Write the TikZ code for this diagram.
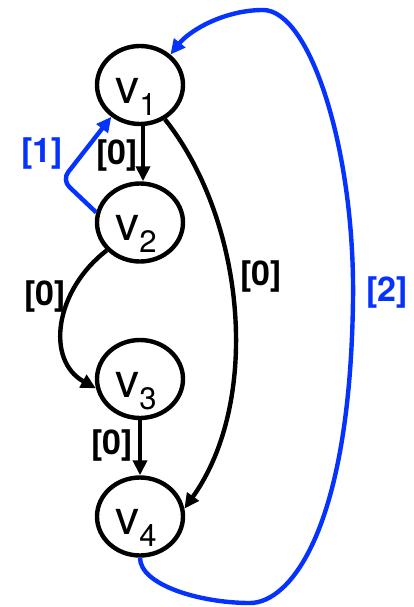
\documentclass[tikz,border=0pt]{standalone}
\usepackage{fontspec}
\setmainfont{TeX Gyre Heros}
\usetikzlibrary{shapes.geometric,arrows.meta}
\definecolor{edgeblue}{RGB}{5,50,252}
\newcommand{\vname}[1]{{\fontsize{48}{48}\selectfont v}\raisebox{-12pt}{\fontsize{31}{31}\selectfont #1}\hspace*{8pt}}
\tikzset{
  vertex/.style={draw, ellipse, line width=4.4pt, inner sep=0pt,
    minimum width=86pt, minimum height=78pt,
    text height=36pt, text depth=0pt},
  edge/.style={line width=4.4pt, -{Triangle[length=15pt,width=14pt]}},
  blueedge/.style={edge, edgeblue},
  weight/.style={font=\fontsize{34}{34}\selectfont\bfseries, inner sep=0pt},
  blueweight/.style={weight, text=edgeblue}
}
\begin{document}
\begin{tikzpicture}[x=1pt, y=-1pt]
  \useasboundingbox (0,0) rectangle (413,607);

  % vertices
  \node[vertex] (v1) at (140,85)    {\vname{1}};
  \node[vertex] (v2) at (140,222.5) {\vname{2}};
  \node[vertex] (v3) at (140,379)   {\vname{3}};
  \node[vertex] (v4) at (140,516.5) {\vname{4}};

  % zero-weight edges
  \draw[edge] ([xshift=3pt]v1.south) -- ([xshift=3pt]v2.north);
  \draw[edge] (v3.south) -- (v4.north);
  \draw[edge] (v2.220) .. controls (55,290) and (45,360) .. (v3.192);
  \draw[edge] (v1.-54) .. controls (245,220) and (262,400) .. (v4.10);

  % back edges
  \draw[blueedge, rounded corners=10pt] (v2.167) -- (62,180) -- (v1.228);
  \draw[blueedge] (v4.south) .. controls (140,585) and (200,603) .. (250,603)
    .. controls (290,603) and (350,530) .. (353,300)
    .. controls (355,150) and (310,10) .. (263,10)
    .. controls (225,10) and (190,30) .. (v1.45);

  % edge weights
  \node[weight] (w12) at (117,156) {[0]};
  \node[weight] (w14) at (261,277) {[0]};
  \node[weight] (w23) at (45,297)  {[0]};
  \node[weight] (w34) at (112,446) {[0]};
  \node[blueweight] (w21) at (42,154)  {[1]};
  \node[blueweight] (w41) at (387,293) {[2]};
\end{tikzpicture}
\end{document}
